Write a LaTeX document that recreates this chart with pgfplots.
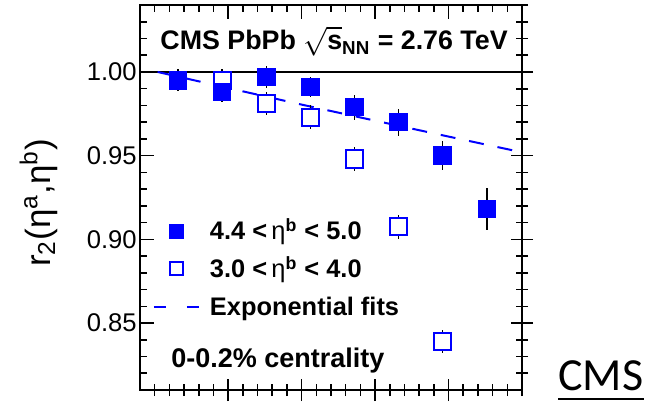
\documentclass[border=0pt]{standalone}
\usepackage{fontspec}
\setmainfont{Liberation Sans}
\newfontfamily\calibri{Carlito}
\usepackage{pgfplots}
\usepackage{pgfplotstable}
\pgfplotsset{compat=1.18}
\definecolor{rootblue}{RGB}{0,0,255}

\pgfplotstableread{
x y e
0.16 0.995 0.0065
0.46 0.988 0.006
0.76 0.997 0.0065
1.06 0.991 0.006
1.36 0.979 0.0075
1.66 0.970 0.008
1.96 0.950 0.0085
2.26 0.918 0.0125
}\filleddata

\pgfplotstableread{
x y e
0.46 0.995 0.007
0.76 0.981 0.007
1.06 0.973 0.007
1.36 0.948 0.007
1.66 0.9075 0.007
1.96 0.839 0.007
}\opendata

\begin{document}
\begin{tikzpicture}
\path[use as bounding box] (-70pt,-6pt) rectangle (253pt,195pt);
% bottom and right axes: centered ticks
\begin{axis}[
  at={(0,0)}, anchor=south west, scale only axis,
  width=191pt, height=192.5pt,
  xmin=-0.1, xmax=2.5, ymin=0.81, ymax=1.04,
  xtick={0.5,1,1.5,2}, minor xtick={0,0.1,...,2.45},
  ytick={0.85,0.9,0.95,1}, minor ytick={0.82,0.83,...,1.035},
  xtick pos=left, ytick pos=right, tick align=center,
  xticklabels={}, yticklabels={},
  major tick length=11pt, minor tick length=6pt,
  tick style={black, line width=0.8pt},
  axis line style={line width=0.9pt},
]
\end{axis}
\begin{axis}[
  at={(0,0)}, anchor=south west, scale only axis,
  width=191pt, height=192.5pt,
  xmin=-0.1, xmax=2.5, ymin=0.81, ymax=1.04,
  xtick={0.5,1,1.5,2}, minor xtick={0,0.1,...,2.45},
  ytick={0.85,0.9,0.95,1}, minor ytick={0.82,0.83,...,1.035},
  xtick pos=right, ytick pos=left, tick align=inside,
  xticklabels={},
  major tick length=7pt, minor tick length=3.5pt,
  tick style={black, line width=0.8pt},
  axis line style={line width=0.9pt},
  yticklabel style={font=\fontsize{12.8}{14}\selectfont, inner sep=1.5pt,
    /pgf/number format/.cd, fixed, fixed zerofill, precision=2, assume math mode=true},
  legend style={draw=none, fill=none, inner sep=0pt, outer sep=0pt,
    at={(0.034,0.4468)}, anchor=north west, row sep=6pt,
    font=\bfseries\fontsize{12.7}{14}\selectfont,
    nodes={inner sep=0pt, text height=11pt, text depth=2pt},
    /tikz/every odd column/.append style={column sep=5pt}},
  legend cell align=left,
]
\addplot[black, line width=1pt, forget plot] coordinates {(-0.1,1) (2.5,1)};
\addplot[rootblue, line width=1pt, dash pattern=on 7.5pt off 7pt, forget plot]
  coordinates {(0.02,1) (0.5,0.9904) (1,0.9805) (1.5,0.9709) (2,0.9614) (2.5,0.952)};
\addplot[forget plot, only marks, mark=square*, mark size=4.3pt,
  mark options={draw=rootblue, fill=white, line width=1pt},
  error bars/.cd, y dir=both, y explicit,
  error bar style={black, line width=0.8pt}, error mark=none]
  table[x=x, y=y, y error=e] {\opendata};
\addplot[forget plot, only marks, mark=square*, mark size=4.3pt,
  mark options={draw=rootblue, fill=rootblue, line width=0.6pt},
  error bars/.cd, y dir=both, y explicit,
  error bar style={black, line width=0.8pt}, error mark=none]
  table[x=x, y=y, y error=e] {\filleddata};

\addlegendimage{legend image code/.code={\path[draw=none, fill=none] (0pt,0pt) -- (22.5pt,0pt);
  \path[draw=rootblue, fill=rootblue] (7.75pt,-3.5pt) rectangle (14.75pt,3.5pt);}}
\addlegendentry{4.4 <\,{\mdseries η}\textsuperscript{b} < 5.0}
\addlegendimage{legend image code/.code={\path[draw=none, fill=none] (0pt,0pt) -- (22.5pt,0pt);
  \path[draw=rootblue, fill=white, line width=1pt] (8pt,-3.25pt) rectangle (14.5pt,3.25pt);}}
\addlegendentry{3.0 <\,{\mdseries η}\textsuperscript{b} < 4.0}
\addlegendimage{legend image code/.code={\path[draw=rootblue, line width=1pt, dash pattern=on 6pt off 10.5pt] (0pt,0pt) -- (22.5pt,0pt);}}
\addlegendentry{Exponential fits}
\end{axis}

\node[anchor=base west, inner sep=0pt, font=\bfseries\fontsize{13.4}{15}\selectfont]
  at (10pt,170pt) {CMS PbPb $\sqrt{\mbox{s}}$\textsubscript{NN} = 2.76 TeV};
\node[anchor=base west, inner sep=0pt, font=\bfseries\fontsize{13.5}{15}\selectfont]
  at (15.5pt,11.5pt) {0-0.2\% centrality};
\node[rotate=90, inner sep=0pt, font=\fontsize{17.5}{19}\selectfont]
  at (-50.75pt,93.5pt) {r\textsubscript{2}(η\textsuperscript{a},η\textsuperscript{b})};
\node[anchor=base west, inner sep=0pt, font=\calibri\fontsize{23}{25}\selectfont]
  (cms) at (209pt,0pt) {CMS};
\draw[black, line width=1pt] ([yshift=-4.5pt]cms.base west) -- ([yshift=-4.5pt]cms.base east);
\end{tikzpicture}
\end{document}
